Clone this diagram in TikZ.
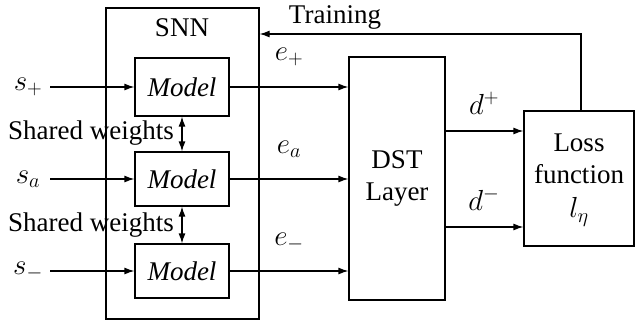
\RequirePackage{fix-cm}
\documentclass[tikz,border=0pt]{standalone}
\usepackage{fontspec}
\setmainfont{Liberation Serif}
\usetikzlibrary{arrows.meta}
\begin{document}
\begin{tikzpicture}[x=1pt,y=-1pt,
  font=\fontsize{27}{32}\selectfont,
  line width=1.2pt,
  >={Latex[length=10pt,width=7pt]},
  box/.style={draw, rectangle, inner sep=0pt},
  lbl/.style={inner sep=0pt},
  sym/.style={inner sep=0pt, anchor=base, font=\fontsize{29}{32}\selectfont}]
\useasboundingbox (0,0) rectangle (635,322);
% SNN container and its three weight-sharing models
\node[box, minimum width=153, minimum height=311] (snn) at (182.5,163.5) {};
\node[lbl] (snnl) at (182,28) {SNN};
\node[box, minimum width=94, minimum height=58] (m1) at (182,87) {\textit{Model}};
\node[box, minimum width=94, minimum height=54] (m2) at (182,179) {\textit{Model}};
\node[box, minimum width=94, minimum height=54] (m3) at (182,271) {\textit{Model}};
% inputs
\node[sym] (sp) at (28,90) {$s_+$};
\node[sym] (sa) at (28,183) {$s_a$};
\node[sym] (sm) at (28,274) {$s_-$};
\coordinate (ip) at (50,87);
\coordinate (ia) at (50,179);
\coordinate (im) at (50,271);
\draw[->] (ip) -- (m1.west);
\draw[->] (ia) -- (m2.west);
\draw[->] (im) -- (m3.west);
% shared weights
\node[lbl] (sw1) at (91,133) {Shared weights};
\node[lbl] (sw2) at (91,225) {Shared weights};
\draw[<->] (m1.south) -- (m2.north);
\draw[<->] (m2.south) -- (m3.north);
% DST layer
\node[box, minimum width=96, minimum height=243, align=center] (dst) at (397,178.5) {DST\\Layer};
\draw[->] (m1.east) -- (m1.east -| dst.west);
\draw[->] (m2.east) -- (m2.east -| dst.west);
\draw[->] (m3.east) -- (m3.east -| dst.west);
\node[sym] (ep) at (289,60) {$e_+$};
\node[sym] (ea) at (289,153) {$e_a$};
\node[sym] (em) at (289,245) {$e_-$};
% loss function
\node[box, minimum width=110, minimum height=135] (loss) at (579,178.5) {};
\node[lbl, align=center] (lossl) at (579,180) {Loss\\function\\[2pt]{\fontsize{29}{32}\selectfont$l_\eta$}};
\coordinate (dp) at (dst.east |- 0,131);
\coordinate (dm) at (dst.east |- 0,227);
\draw[->] (dp) -- (dp -| loss.west);
\draw[->] (dm) -- (dm -| loss.west);
\node[sym] (dpl) at (484,114) {$d^+$};
\node[sym] (dml) at (484,210) {$d^-$};
% training feedback
\coordinate (t1) at (581,34);
\draw[->] (loss.north -| t1) -- (t1) -- (t1 -| snn.east);
\node[lbl] (tr) at (335,17) {Training};
\end{tikzpicture}
\end{document}
